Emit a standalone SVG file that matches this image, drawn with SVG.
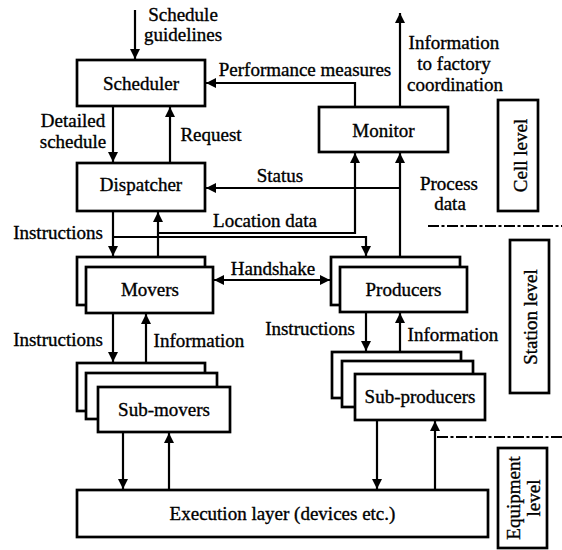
<svg xmlns="http://www.w3.org/2000/svg" width="562" height="550" viewBox="0 0 562 550" font-family="'Liberation Serif', 'Times New Roman', Times, serif" font-size="19">
<defs>
<marker id="ah" markerUnits="userSpaceOnUse" markerWidth="12" markerHeight="11" refX="10" refY="5" orient="auto-start-reverse">
<path d="M0,0 L10,5 L0,10 z" fill="#000"/>
</marker>
<style>
text{font-family:'Liberation Serif','Times New Roman',Times,serif;font-size:19px;fill:#000;stroke:#000;stroke-width:0.35}
.c{text-anchor:middle}
.box{fill:#fff;stroke:#000;stroke-width:2.7}
.arr{fill:none;stroke:#000;stroke-width:2.2;marker-end:url(#ah)}
.dd{fill:none;stroke:#000;stroke-width:2;stroke-dasharray:11 2.5 3 2.5}
</style>
</defs>
<rect width="562" height="550" fill="#fff"/>

<g id="connectors">
<path class="arr" d="M135,10 V59"/>
<path class="arr" d="M113,106 V162"/>
<path class="arr" d="M170,163 V107"/>
<path class="arr" d="M355,107 V83 H206"/>
<path class="arr" d="M400,107 V13"/>
<path class="arr" d="M400,257 V153"/>
<path class="arr" d="M400,188 H206"/>
<path class="arr" d="M158,257 V212"/>
<path class="arr" d="M158,233 H355 V153"/>
<path class="arr" d="M113,211 V256"/>
<path class="arr" d="M113,237 H366 V256"/>
<path class="arr" d="M214,280 H330" style="marker-start:url(#ah)"/>
<path class="arr" d="M113,313 V362"/>
<path class="arr" d="M146,363 V314"/>
<path class="arr" d="M366,312 V351"/>
<path class="arr" d="M400,352 V313"/>
<path class="arr" d="M123,432 V489"/>
<path class="arr" d="M169,490 V433"/>
<path class="arr" d="M377,420 V489"/>
<path class="arr" d="M435,490 V421"/>
</g>

<g id="labels">
<text class="c" x="183" y="21">Schedule</text>
<text class="c" x="183" y="41">guidelines</text>
<text class="c" x="73" y="127">Detailed</text>
<text class="c" x="73" y="148">schedule</text>
<text class="c" x="211" y="141">Request</text>
<text class="c" x="305" y="76">Performance measures</text>
<text class="c" x="454" y="49">Information</text>
<text class="c" x="454" y="70">to factory</text>
<text class="c" x="455" y="91">coordination</text>
<text class="c" x="280" y="182">Status</text>
<text class="c" x="265" y="227">Location data</text>
<text class="c" x="449" y="190">Process</text>
<text class="c" x="450" y="210">data</text>
<text class="c" x="58" y="239">Instructions</text>
<text class="c" x="273" y="275">Handshake</text>
<text class="c" x="58" y="346">Instructions</text>
<text class="c" x="199" y="347">Information</text>
<text class="c" x="310" y="335">Instructions</text>
<text class="c" x="453" y="341">Information</text>
</g>

<g id="scheduler">
<rect class="box" x="77" y="60" width="128" height="46"/>
<text class="c" x="141" y="90">Scheduler</text>
</g>
<g id="dispatcher">
<rect class="box" x="77" y="163" width="128" height="48"/>
<text class="c" x="141" y="191">Dispatcher</text>
</g>
<g id="monitor">
<rect class="box" x="319" y="107" width="129" height="45"/>
<text class="c" x="383.5" y="137">Monitor</text>
</g>
<g id="movers">
<rect class="box" x="77" y="257" width="128" height="48"/>
<rect class="box" x="86" y="267" width="127" height="46"/>
<text class="c" x="150" y="296">Movers</text>
</g>
<g id="producers">
<rect class="box" x="331" y="257" width="129" height="48"/>
<rect class="box" x="340" y="267" width="127" height="45"/>
<text class="c" x="403.5" y="296">Producers</text>
</g>
<g id="sub-movers">
<rect class="box" x="77" y="363" width="128" height="48"/>
<rect class="box" x="86" y="373" width="131" height="46"/>
<rect class="box" x="98" y="387" width="132" height="45"/>
<text class="c" x="164" y="416">Sub-movers</text>
</g>
<g id="sub-producers">
<rect class="box" x="332" y="352" width="129" height="46"/>
<rect class="box" x="342" y="361" width="131" height="46"/>
<rect class="box" x="355" y="374" width="130" height="46"/>
<text class="c" x="420" y="403">Sub-producers</text>
</g>
<g id="execution-layer">
<rect class="box" x="77" y="490" width="411" height="47"/>
<text class="c" x="282.5" y="520">Execution layer (devices etc.)</text>
</g>

<g id="levels">
<path class="dd" d="M428,226 H562"/>
<path class="dd" d="M437,437 H562"/>
<rect class="box" x="498" y="100" width="40" height="111"/>
<text class="c" transform="translate(527,155.5) rotate(-90)">Cell level</text>
<rect class="box" x="510" y="240" width="39" height="153"/>
<text class="c" transform="translate(537,317) rotate(-90)">Station level</text>
<rect class="box" x="498" y="448" width="49" height="100"/>
<text class="c" transform="translate(520,498) rotate(-90)">Equipment</text>
<text class="c" transform="translate(540,498) rotate(-90)">level</text>
</g>
</svg>
